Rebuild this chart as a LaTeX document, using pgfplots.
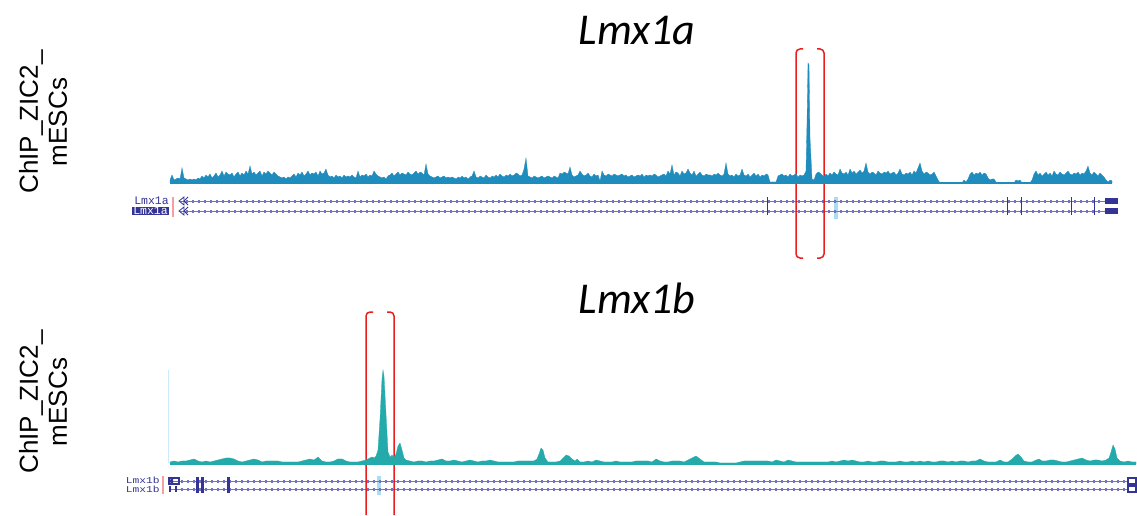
\documentclass[border=0pt]{standalone}
\usepackage{pgfplots}
\pgfplotsset{compat=1.18}
\usepackage{fontspec}
\setmainfont{Liberation Sans}
\newfontfamily\cali{Carlito}
\newfontfamily\monof{Liberation Mono}
\definecolor{topc}{RGB}{30,140,188}
\definecolor{botc}{RGB}{36,170,170}
\definecolor{gnavy}{RGB}{52,52,150}
\definecolor{glight}{RGB}{115,115,190}
\definecolor{hl}{RGB}{170,220,245}
\definecolor{redb}{RGB}{235,30,30}
\definecolor{pinkl}{RGB}{245,160,160}
\tikzset{glab/.style={inner sep=0pt, text height=6pt, text depth=0pt, font=\monof\fontsize{11.5}{11.5}\selectfont},
  glabs/.style={inner sep=0pt, text height=5pt, text depth=0pt, xscale=1.25, font=\monof\fontsize{9}{9}\selectfont},
  beads/.style={glight, line width=3pt, dash pattern=on 1.6pt off 4.4pt}}
\begin{document}
\begin{tikzpicture}
% ---------- layout / annotation axis (pixel coordinates) ----------
\begin{axis}[name=main, at={(0pt,0pt)}, anchor=south west, scale only axis,
  width=1137pt, height=516pt, xmin=0, xmax=1137, ymin=0, ymax=516,
  y dir=reverse, hide axis, clip=false]
\addplot[draw=none] coordinates {(0,0)(1137,516)};
% titles
\node[font=\cali\itshape\fontsize{44}{44}\selectfont] at (axis cs:637,31) {Lmx1a};
\node[font=\cali\itshape\fontsize{44}{44}\selectfont] at (axis cs:637,298) {Lmx1b};
% track labels
\node[rotate=90, align=center, font=\fontsize{26}{29}\selectfont] at (axis cs:43,122) {ChIP\_ZIC2\_\\mESCs};
\node[rotate=90, align=center, font=\fontsize{26}{29}\selectfont] at (axis cs:43,402) {ChIP\_ZIC2\_\\mESCs};
% ---- gene track Lmx1a ----
\node[glab, anchor=east, text=gnavy] at (axis cs:169,201) {Lmx1a};
\node[glab, anchor=east, fill=gnavy, text=white, inner xsep=1pt, text height=7pt, text depth=1pt] at (axis cs:169,211) {Lmx1a};
\draw[pinkl, line width=1.2pt] (axis cs:173,197) -- (axis cs:173,217);
\fill[hl] (axis cs:834,197) rectangle (axis cs:838,219);
\draw[glight, line width=0.9pt] (axis cs:180,201) -- (axis cs:1106,201);
\draw[beads] (axis cs:186,201) -- (axis cs:1104,201);
\draw[gnavy, line width=0.8pt] (axis cs:184,197) -- (axis cs:179,201) -- (axis cs:184,205) -- cycle;
\draw[gnavy, line width=0.8pt] (axis cs:188,197) -- (axis cs:184,201) -- (axis cs:188,205);
\fill[gnavy] (axis cs:1105,198) rectangle (axis cs:1118,204);
\draw[glight, line width=0.9pt] (axis cs:180,211) -- (axis cs:1106,211);
\draw[beads] (axis cs:186,211) -- (axis cs:1104,211);
\draw[gnavy, line width=0.8pt] (axis cs:184,207) -- (axis cs:179,211) -- (axis cs:184,215) -- cycle;
\draw[gnavy, line width=0.8pt] (axis cs:188,207) -- (axis cs:184,211) -- (axis cs:188,215);
\fill[gnavy] (axis cs:1105,208) rectangle (axis cs:1118,214);
\draw[gnavy, line width=0.9pt] (axis cs:767,197) -- (axis cs:767,215);
\draw[gnavy, line width=0.9pt] (axis cs:1007,197) -- (axis cs:1007,215);
\draw[gnavy, line width=0.9pt] (axis cs:1021,197) -- (axis cs:1021,215);
\draw[gnavy, line width=0.9pt] (axis cs:1071,197) -- (axis cs:1071,215);
\draw[gnavy, line width=0.9pt] (axis cs:1094,197) -- (axis cs:1094,215);
% ---- gene track Lmx1b ----
\node[glabs, anchor=east, text=gnavy] at (axis cs:160,480.5) {Lmx1b};
\node[glabs, anchor=east, text=gnavy] at (axis cs:160,489.5) {Lmx1b};
\draw[pinkl, line width=1.2pt] (axis cs:163,476) -- (axis cs:163,494);
\fill[hl] (axis cs:377,476) rectangle (axis cs:381,495);
\draw[glight, line width=0.9pt] (axis cs:170,481) -- (axis cs:1128,481);
\draw[beads] (axis cs:181,481) -- (axis cs:1126,481);
\draw[glight, line width=0.9pt] (axis cs:170,489) -- (axis cs:1128,489);
\draw[beads] (axis cs:181,489) -- (axis cs:1126,489);
\fill[gnavy] (axis cs:196,477) rectangle (axis cs:199,485);
\fill[gnavy] (axis cs:201,477) rectangle (axis cs:204,485);
\fill[gnavy] (axis cs:227,477) rectangle (axis cs:230,485);
\fill[gnavy] (axis cs:196,485) rectangle (axis cs:199,493);
\fill[gnavy] (axis cs:201,485) rectangle (axis cs:204,493);
\fill[gnavy] (axis cs:227,485) rectangle (axis cs:230,493);
\draw[gnavy, line width=1.2pt] (axis cs:1128,478) rectangle (axis cs:1136,484);
\draw[gnavy, line width=1.2pt] (axis cs:1128,486) rectangle (axis cs:1136,492);
\draw[gnavy, line width=1.2pt] (axis cs:169,478) rectangle (axis cs:179,484);
\draw[gnavy, line width=1.2pt] (axis cs:170,486) -- (axis cs:170,492) (axis cs:176,486) -- (axis cs:176,492);
\fill[gnavy] (axis cs:168,481) -- (axis cs:173,478) -- (axis cs:173,484) -- cycle;
% faint axis line of lower track
\draw[hl!60, line width=0.8pt] (axis cs:168,370) -- (axis cs:168,463);
% ---- red highlight brackets ----
\draw[redb, line width=1.5pt, rounded corners=4pt] (axis cs:803,49) -- (axis cs:796,49) -- (axis cs:796,258) -- (axis cs:803,258);
\draw[redb, line width=1.5pt, rounded corners=4pt] (axis cs:817,49) -- (axis cs:824,49) -- (axis cs:824,258) -- (axis cs:817,258);
\draw[redb, line width=1.5pt, rounded corners=4pt] (axis cs:373,312) -- (axis cs:366,312) -- (axis cs:366,515);
\draw[redb, line width=1.5pt, rounded corners=4pt] (axis cs:387,312) -- (axis cs:394,312) -- (axis cs:394,515);
\end{axis}
% ---------- Lmx1a ChIP signal ----------
\begin{axis}[at={(170pt,333pt)}, anchor=south west, scale only axis,
  width=942pt, height=120pt, xmin=170, xmax=1112, ymin=0, ymax=120, hide axis, clip=false]
\addplot[topc, line width=1.2pt] coordinates {(170,0)(1112,0)};
\addplot[fill=topc, draw=topc, line width=0.3pt] coordinates {
(170,0)(170,3)(172,8)(174,3)(176,4)(178,5)(180,4)(182,15)(184,5)(186,4)(188,3)
(190,4)(192,3)(194,4)(196,3)(198,5)(200,4)(202,7)(204,5)(206,8)(208,6)
(210,9)(212,5)(214,7)(216,10)(218,6)(220,8)(222,12)(224,7)(226,11)(228,9)
(230,8)(232,10)(234,6)(236,9)(238,11)(240,7)(242,10)(244,8)(246,12)(248,9)
(250,17)(252,9)(254,11)(256,8)(258,10)(260,12)(262,7)(264,11)(266,9)(268,12)
(270,10)(272,8)(274,11)(276,9)(278,7)(280,6)(282,5)(284,6)(286,4)(288,6)
(290,5)(292,7)(294,9)(296,6)(298,10)(300,8)(302,11)(304,7)(306,9)(308,12)
(310,8)(312,10)(314,9)(316,11)(318,7)(320,12)(322,9)(324,10)(326,14)(328,8)
(330,6)(332,7)(334,5)(336,8)(338,6)(340,7)(342,5)(344,8)(346,6)(348,7)
(350,6)(352,8)(354,6)(356,5)(358,12)(360,6)(362,8)(364,7)(366,9)(368,6)
(370,8)(372,7)(374,12)(376,9)(378,7)(380,6)(382,5)(384,6)(386,4)(388,7)
(390,8)(392,10)(394,7)(396,9)(398,11)(400,8)(402,10)(404,9)(406,8)(408,11)
(410,9)(412,8)(414,10)(416,12)(418,9)(420,11)(422,10)(424,8)(426,19)(428,9)
(430,7)(432,6)(434,5)(436,6)(438,7)(440,5)(442,6)(444,7)(446,5)(448,6)
(450,5)(452,6)(454,5)(456,4)(458,6)(460,5)(462,7)(464,5)(466,6)(468,4)
(470,6)(472,7)(474,12)(476,6)(478,5)(480,7)(482,6)(484,5)(486,8)(488,6)
(490,5)(492,7)(494,6)(496,8)(498,6)(500,9)(502,7)(504,6)(506,8)(508,7)
(510,9)(512,7)(514,8)(516,10)(518,9)(520,7)(522,8)(524,14)(526,25)(528,7)
(530,6)(532,5)(534,7)(536,6)(538,5)(540,6)(542,7)(544,5)(546,6)(548,7)
(550,6)(552,5)(554,7)(556,6)(558,5)(560,10)(562,9)(564,11)(566,10)(568,9)
(570,16)(572,8)(574,6)(576,7)(578,8)(580,12)(582,9)(584,7)(586,8)(588,10)
(590,7)(592,6)(594,9)(596,7)(598,8)(600,2)(602,12)(604,8)(606,7)(608,9)
(610,8)(612,7)(614,9)(616,8)(618,7)(620,8)(622,9)(624,7)(626,8)(628,6)
(630,7)(632,8)(634,6)(636,7)(638,8)(640,7)(642,9)(644,6)(646,8)(648,7)
(650,8)(652,7)(654,9)(656,8)(658,6)(660,7)(662,8)(664,9)(666,7)(668,12)
(670,9)(672,18)(674,8)(676,11)(678,10)(680,7)(682,12)(684,9)(686,10)(688,14)
(690,10)(692,8)(694,12)(696,7)(698,9)(700,11)(702,8)(704,7)(706,9)(708,8)
(710,8)(712,7)(714,9)(716,8)(718,10)(720,8)(722,7)(724,9)(726,20)(728,9)
(730,7)(732,8)(734,6)(736,9)(738,7)(740,8)(742,14)(744,8)(746,7)(748,9)
(750,6)(752,8)(754,10)(756,7)(758,9)(760,6)(762,8)(764,7)(766,9)(768,8)
(770,1)(772,1)(774,1)(776,1)(778,7)(780,8)(782,9)(784,7)(786,8)(788,6)
(790,9)(792,7)(794,8)(796,9)(798,6)(800,8)(802,7)(804,8)(806,12)(807,60)(808,120)(809,118)(810,45)(812,4)(814,3)
(816,9)(818,11)(820,10)(822,8)
(824,6)(826,9)(828,7)(830,10)(832,8)(834,11)(836,9)(838,8)(840,14)(842,10)(844,9)(846,11)(848,8)
(850,14)(852,10)(854,12)(856,9)(858,11)(860,13)(862,10)(864,12)(866,20)(868,11)
(870,9)(872,11)(874,10)(876,8)(878,12)(880,10)(882,9)(884,11)(886,10)(888,12)
(890,9)(892,10)(894,11)(896,8)(898,10)(900,14)(902,9)(904,8)(906,10)(908,9)
(910,11)(912,8)(914,12)(916,10)(918,15)(920,20)(922,12)(924,9)(926,11)(928,10)(930,8)(932,9)(934,11)(936,7)(938,3)
(940,0)(962,0)
(964,3)(966,1)(968,4)(970,9)(972,11)(974,8)(976,10)(978,9)(980,11)(982,8)(984,10)(986,9)(988,5)(990,3)(992,4)(994,4)(996,1)(998,0)
(1014,0)(1016,3)(1018,2)(1020,3)(1022,0)(1030,0)
(1032,3)(1034,9)(1036,12)(1038,8)(1040,10)(1042,7)(1044,9)(1046,11)(1048,8)(1050,10)(1052,7)(1054,12)(1056,9)(1058,8)
(1060,11)(1062,9)(1064,8)(1066,10)(1068,12)(1070,9)(1072,8)(1074,10)(1076,9)(1078,11)(1080,8)(1082,10)(1084,9)(1086,12)
(1088,17)(1090,10)(1092,8)(1094,11)(1096,9)(1098,7)(1100,10)(1102,8)(1104,6)(1106,3)(1108,1)(1110,3)(1112,2)(1112,0)};
\end{axis}
% ---------- Lmx1b ChIP signal ----------
\begin{axis}[at={(170pt,52pt)}, anchor=south west, scale only axis,
  width=967pt, height=94pt, xmin=170, xmax=1137, ymin=0, ymax=94, hide axis, clip=false]
\addplot[botc, line width=1.2pt] coordinates {(170,0)(1136,0)};
\addplot[fill=botc, draw=botc, line width=0.3pt] coordinates {
(170,0)(170,2)(174,3)(178,2)(182,3)(186,3)(190,4)(194,5)(198,3)(202,2)(206,3)(210,2)(214,3)(218,4)(222,5)(226,6)(230,6)(234,5)(238,3)
(242,2)(246,3)(250,4)(254,5)(258,4)(262,2)(266,3)(270,3)(274,3)(278,3)(282,2)(286,2)(290,2)(294,2)(298,2)(302,3)(306,4)(310,5)
(314,4)(318,7)(322,3)(326,2)(330,2)(334,3)(338,5)(342,5)(346,3)(350,2)(354,2)(358,2)(362,3)(366,4)(370,6)(372,7)(374,6)(376,8)
(378,14)(380,45)(382,85)(383,94)(384,88)(386,50)(388,12)(390,7)(392,9)(394,6)(396,10)(398,18)(400,21)(402,14)(404,6)(406,4)
(410,3)(414,2)(418,3)(422,3)(426,2)(430,3)(434,3)(438,4)(442,5)(446,3)(450,3)(454,4)(458,3)(462,2)(466,3)(470,4)(474,3)(478,2)
(482,3)(486,3)(490,4)(494,3)(498,2)(502,2)(506,2)(510,2)(514,2)(518,3)(522,3)(526,3)(530,3)(534,3)(537,5)(539,10)(541,16)(543,14)
(545,6)(548,2)(552,2)(556,2)(560,3)(563,6)(566,9)(569,8)(572,5)(575,3)(577,5)(580,2)(584,2)(588,3)(592,2)(596,4)(600,3)(604,2)
(608,2)(612,2)(616,3)(620,2)(624,2)(628,2)(632,2)(636,3)(640,3)(644,3)(648,3)(652,2)(656,5)(660,3)(664,2)(668,2)(672,3)(676,3)
(680,3)(684,2)(688,4)(692,6)(696,8)(700,5)(704,2)(708,2)(712,2)(716,2)(720,1)(724,1)(728,1)(732,1)(736,1)(740,2)(744,3)(748,3)
(752,3)(756,3)(760,3)(764,3)(768,3)(772,2)(776,4)(780,3)(784,2)(788,4)(792,3)(796,2)(800,2)(804,2)(808,2)(812,2)(816,2)(820,2)
(824,2)(828,2)(832,3)(836,2)(840,3)(844,4)(848,3)(852,4)(856,3)(860,2)(864,2)(868,3)(872,2)(876,2)(880,3)(884,3)(888,2)(892,2)
(896,2)(900,3)(904,2)(908,2)(912,3)(916,2)(920,3)(924,2)(928,3)(932,2)(936,2)(940,3)(944,3)(948,2)(952,3)(956,2)(960,3)(964,3)
(968,2)(972,3)(976,3)(980,5)(984,3)(988,2)(992,2)(996,2)(1000,4)(1004,2)(1008,2)(1012,5)(1015,8)(1018,10)(1021,7)(1024,3)(1028,2)
(1032,2)(1036,4)(1039,5)(1042,3)(1046,3)(1050,4)(1054,4)(1058,3)(1062,2)(1066,2)(1070,3)(1074,4)(1078,5)(1082,6)(1086,4)(1090,3)
(1094,4)(1098,4)(1102,3)(1106,4)(1109,6)(1111,12)(1113,19)(1115,15)(1117,6)(1120,3)(1124,2)(1128,3)(1132,2)(1136,2)(1136,0)};
\end{axis}
\end{tikzpicture}
\end{document}
